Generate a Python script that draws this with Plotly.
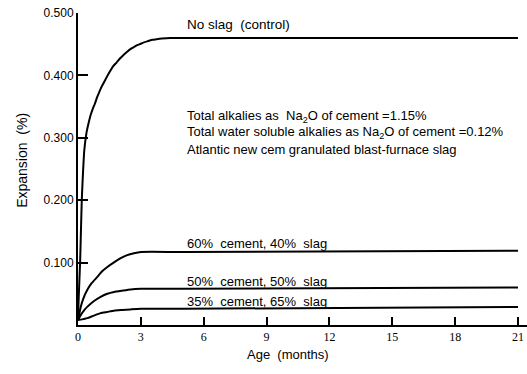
import plotly.graph_objects as go

# ---- data ----
months_noslag = [0, 0.03, 0.07, 0.1, 0.14, 0.18, 0.24, 0.3, 0.41, 0.5, 0.6, 0.7, 0.81, 0.9, 1.0, 1.1,
                 1.21, 1.35, 1.5, 1.68, 1.85, 2.0, 2.15, 2.32, 2.5, 2.65, 2.8, 2.95, 3.15, 3.35, 3.55,
                 3.75, 4.0, 4.4, 5.0, 21]
exp_noslag = [0.008, 0.04, 0.075, 0.1, 0.15, 0.2, 0.245, 0.28, 0.309, 0.323, 0.336, 0.346, 0.355, 0.364,
              0.372, 0.380, 0.387, 0.396, 0.405, 0.415, 0.421, 0.427, 0.432, 0.437, 0.442, 0.445, 0.448,
              0.450, 0.453, 0.455, 0.457, 0.458, 0.459, 0.460, 0.460, 0.460]

months_60_40 = [0, 0.05, 0.13, 0.25, 0.44, 0.65, 0.92, 1.15, 1.4, 1.7, 2.04, 2.35, 2.67, 3.0, 5.0, 21]
exp_60_40 = [0.008, 0.016, 0.029, 0.042, 0.056, 0.067, 0.077, 0.086, 0.093, 0.100, 0.107, 0.112, 0.115,
             0.117, 0.117, 0.119]

months_50_50 = [0, 0.15, 0.3, 0.44, 0.75, 1.08, 1.4, 1.72, 2.1, 2.51, 3.0, 5.0, 21]
exp_50_50 = [0.008, 0.017, 0.024, 0.029, 0.038, 0.045, 0.050, 0.053, 0.055, 0.057, 0.058, 0.058, 0.060]

months_35_65 = [0, 0.2, 0.44, 0.75, 1.08, 1.4, 1.72, 2.1, 2.51, 3.0, 5.0, 21]
exp_35_65 = [0.008, 0.009, 0.011, 0.015, 0.019, 0.021, 0.023, 0.024, 0.025, 0.026, 0.026, 0.029]

x_ticks = [0, 3, 6, 9, 12, 15, 18, 21]
y_ticks = [0.1, 0.2, 0.3, 0.4, 0.5]
y_tick_labels = ["0.100", "0.200", "0.300", "0.400", "0.500"]

series = [
    ("No slag (control)", months_noslag, exp_noslag),
    ("60% cement, 40% slag", months_60_40, exp_60_40),
    ("50% cement, 50% slag", months_50_50, exp_50_50),
    ("35% cement, 65% slag", months_35_65, exp_35_65),
]

FONT = "Liberation Sans"
NB = "\u00a0"

fig = go.Figure()
for name, xs, ys in series:
    fig.add_trace(go.Scatter(
        x=xs, y=ys, mode="lines", name=name,
        line=dict(color="black", width=2, shape="spline", smoothing=0.5),
        showlegend=False, hoverinfo="skip",
    ))

# curve labels
labels = [
    ("No slag" + NB + " (control)", 0.481, 13.5),
    ("60%" + NB + " cement, 40%" + NB + " slag", 0.131, 13),
    ("50%" + NB + " cement, 50%" + NB + " slag", 0.069, 13),
    ("35%" + NB + " cement, 65%" + NB + " slag", 0.037, 13),
]
for txt, yv, fs in labels:
    fig.add_annotation(x=5.15, y=yv, xref="x", yref="y", text=txt, showarrow=False,
                       xanchor="left", yanchor="middle", borderpad=0,
                       font=dict(family=FONT, size=fs, color="black"))

note_lines = [
    ("Total alkalies as " + NB + "Na<sub>2</sub>O of cement" + NB + "=1.15%", 0.334),
    ("Total water soluble alkalies as Na<sub>2</sub>O of cement" + NB + "=0.12%", 0.3085),
    ("Atlantic new cem granulated blast-furnace slag", 0.281),
]
for txt, yv in note_lines:
    fig.add_annotation(x=5.15, y=yv, xref="x", yref="y", text=txt, showarrow=False,
                       xanchor="left", yanchor="middle", align="left", borderpad=0,
                       font=dict(family=FONT, size=13, color="black"))

# axis titles
fig.add_annotation(x=-0.125, y=0.529, xref="paper", yref="paper", text="Expansion" + NB + " (%)",
                   textangle=-90, showarrow=False, xanchor="center", yanchor="middle",
                   font=dict(family=FONT, size=14, color="black"))
fig.add_annotation(x=0.468, y=-0.096, xref="paper", yref="paper", text="Age" + NB + " (months)",
                   showarrow=False, xanchor="center", yanchor="middle",
                   font=dict(family=FONT, size=13, color="black"))

fig.update_layout(
    width=527, height=374,
    margin=dict(l=78, r=0, t=13, b=49),
    paper_bgcolor="white", plot_bgcolor="white",
    font=dict(family=FONT, size=11, color="black"),
    xaxis=dict(
        range=[0, 21.43], tickvals=x_ticks, ticktext=[str(v) for v in x_ticks],
        ticks="inside", ticklen=8, tickwidth=1.5, tickcolor="black",
        showline=True, linecolor="black", linewidth=1.6,
        showgrid=False, zeroline=False, automargin=False,
        tickfont=dict(family="Liberation Serif", size=12),
    ),
    yaxis=dict(
        range=[0, 0.5], tickvals=y_ticks, ticktext=y_tick_labels,
        ticks="inside", ticklen=10, tickwidth=1.5, tickcolor="black",
        showline=True, linecolor="black", linewidth=2,
        showgrid=False, zeroline=False, automargin=False,
        tickfont=dict(family=FONT, size=12),
    ),
)

fig.write_html("out.html", config={"displayModeBar": False},
               post_script="document.body.style.margin='0';")
